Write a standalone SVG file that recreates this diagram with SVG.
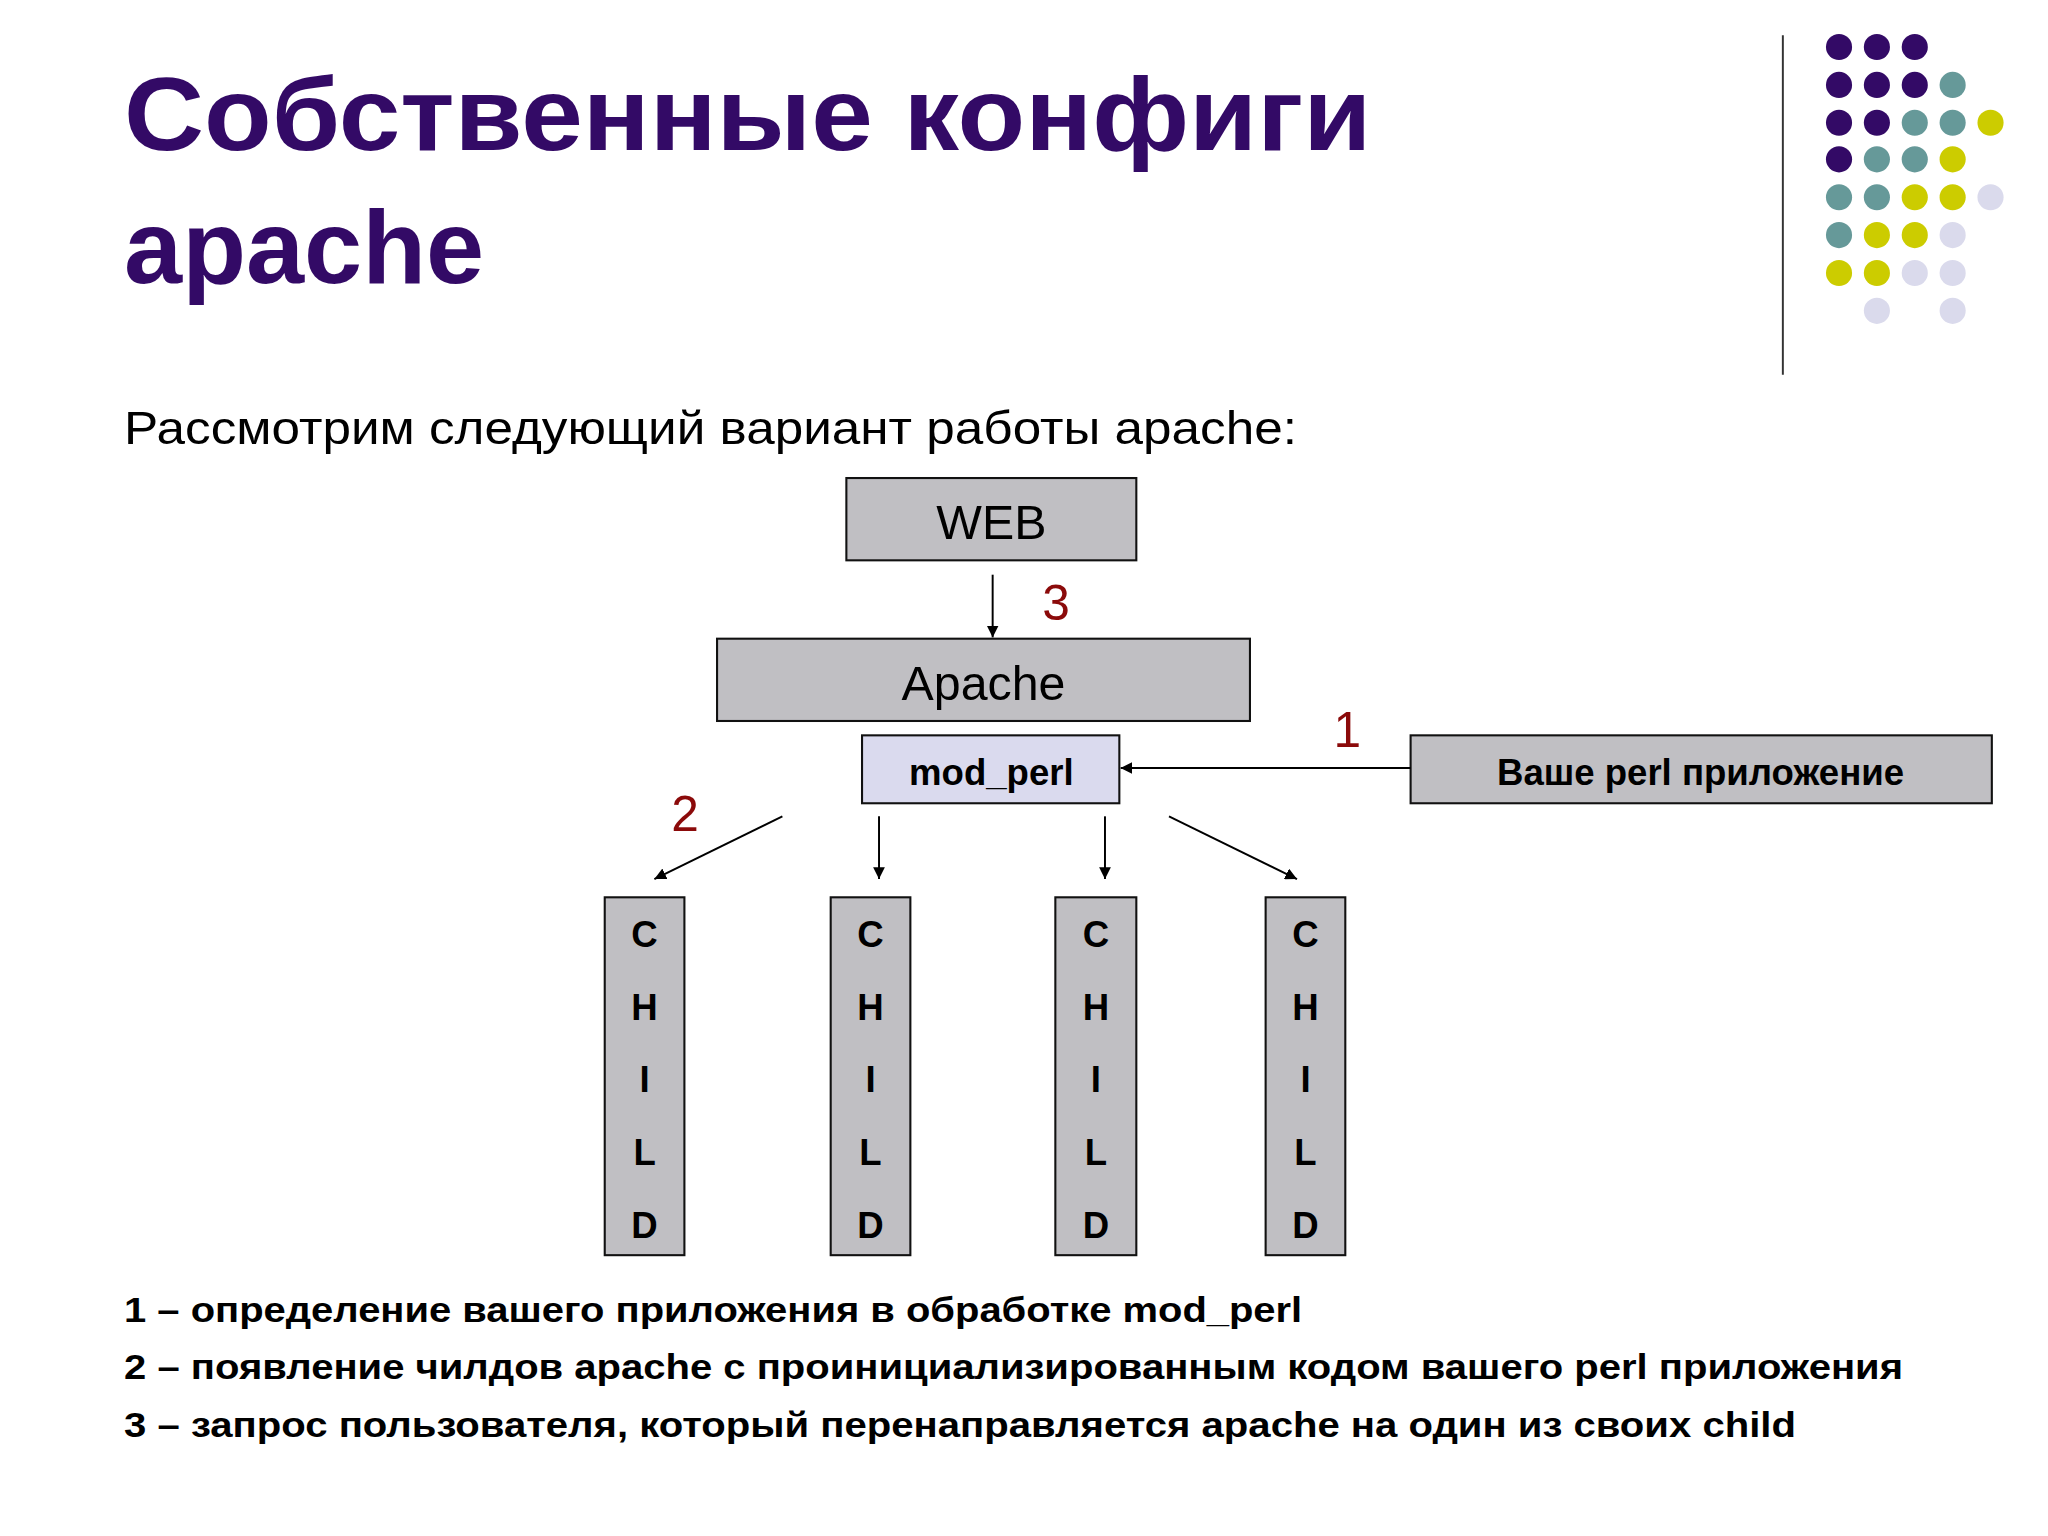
<svg xmlns="http://www.w3.org/2000/svg" width="2048" height="1536" viewBox="0 0 2048 1536">
<defs>
<style>
text{font-family:"Liberation Sans",Arial,sans-serif}
.box{fill:#C0BFC3;stroke:#111;stroke-width:1.6}
.lbl{font-size:37px;fill:#000;text-anchor:middle}
.b{font-weight:bold;font-size:28px;fill:#000;text-anchor:middle}
.num{font-size:38px;fill:#8B0A0A}
.ln{stroke:#000;stroke-width:1.5;fill:none;marker-end:url(#ah)}
.note{font-weight:bold;font-size:27px;fill:#000}
.p{fill:#330A66}.t{fill:#669999}.y{fill:#CCCC00}.l{fill:#DADAEC}
</style>
<marker id="ah" viewBox="0 0 10 10" refX="10" refY="5" markerWidth="9" markerHeight="9" markerUnits="userSpaceOnUse" orient="auto"><path d="M0,0L10,5L0,10z" fill="#000"/></marker>
</defs>
<rect width="2048" height="1536" fill="#fff"/>
<g transform="scale(1.30612)">
<g id="title">
<text x="95" y="115" font-size="80" font-weight="bold" fill="#330A66" textLength="955" lengthAdjust="spacingAndGlyphs">Собственные конфиги</text>
<text x="95" y="217" font-size="80" font-weight="bold" fill="#330A66">apache</text>
</g>
<line x1="1365" y1="27" x2="1365" y2="287" stroke="#333" stroke-width="1.5"/>
<g id="dots">
<circle class="p" cx="1408" cy="36" r="10"/><circle class="p" cx="1437" cy="36" r="10"/><circle class="p" cx="1466" cy="36" r="10"/>
<circle class="p" cx="1408" cy="65" r="10"/><circle class="p" cx="1437" cy="65" r="10"/><circle class="p" cx="1466" cy="65" r="10"/><circle class="t" cx="1495" cy="65" r="10"/>
<circle class="p" cx="1408" cy="94" r="10"/><circle class="p" cx="1437" cy="94" r="10"/><circle class="t" cx="1466" cy="94" r="10"/><circle class="t" cx="1495" cy="94" r="10"/><circle class="y" cx="1524" cy="94" r="10"/>
<circle class="p" cx="1408" cy="122" r="10"/><circle class="t" cx="1437" cy="122" r="10"/><circle class="t" cx="1466" cy="122" r="10"/><circle class="y" cx="1495" cy="122" r="10"/>
<circle class="t" cx="1408" cy="151" r="10"/><circle class="t" cx="1437" cy="151" r="10"/><circle class="y" cx="1466" cy="151" r="10"/><circle class="y" cx="1495" cy="151" r="10"/><circle class="l" cx="1524" cy="151" r="10"/>
<circle class="t" cx="1408" cy="180" r="10"/><circle class="y" cx="1437" cy="180" r="10"/><circle class="y" cx="1466" cy="180" r="10"/><circle class="l" cx="1495" cy="180" r="10"/>
<circle class="y" cx="1408" cy="209" r="10"/><circle class="y" cx="1437" cy="209" r="10"/><circle class="l" cx="1466" cy="209" r="10"/><circle class="l" cx="1495" cy="209" r="10"/>
<circle class="l" cx="1437" cy="238" r="10"/><circle class="l" cx="1495" cy="238" r="10"/>
</g>
<text x="95" y="340" font-size="36" fill="#000" textLength="898" lengthAdjust="spacingAndGlyphs">Рассмотрим следующий вариант работы apache:</text>
<g id="web"><rect class="box" x="648" y="366" width="222" height="63"/><text class="lbl" x="759" y="413">WEB</text></g>
<g id="apache"><rect class="box" x="549" y="489" width="408" height="63"/><text class="lbl" x="753" y="536">Apache</text></g>
<g id="modperl"><rect x="660" y="563" width="197" height="52" fill="#DADAEE" stroke="#111" stroke-width="1.6"/><text class="b" x="759" y="601">mod_perl</text></g>
<g id="app"><rect class="box" x="1080" y="563" width="445" height="52"/><text class="b" x="1302" y="601">Ваше perl приложение</text></g>
<g id="child1"><rect class="box" x="463" y="687" width="61" height="274"/><text class="b" x="493.5"><tspan x="493.5" y="725">C</tspan><tspan x="493.5" y="781">H</tspan><tspan x="493.5" y="836">I</tspan><tspan x="493.5" y="892">L</tspan><tspan x="493.5" y="948">D</tspan></text></g>
<g id="child2"><rect class="box" x="636" y="687" width="61" height="274"/><text class="b" x="666.5"><tspan x="666.5" y="725">C</tspan><tspan x="666.5" y="781">H</tspan><tspan x="666.5" y="836">I</tspan><tspan x="666.5" y="892">L</tspan><tspan x="666.5" y="948">D</tspan></text></g>
<g id="child3"><rect class="box" x="808" y="687" width="62" height="274"/><text class="b" x="839"><tspan x="839" y="725">C</tspan><tspan x="839" y="781">H</tspan><tspan x="839" y="836">I</tspan><tspan x="839" y="892">L</tspan><tspan x="839" y="948">D</tspan></text></g>
<g id="child4"><rect class="box" x="969" y="687" width="61" height="274"/><text class="b" x="999.5"><tspan x="999.5" y="725">C</tspan><tspan x="999.5" y="781">H</tspan><tspan x="999.5" y="836">I</tspan><tspan x="999.5" y="892">L</tspan><tspan x="999.5" y="948">D</tspan></text></g>
<g id="connectors">
<line class="ln" x1="760" y1="440" x2="760" y2="488"/>
<line class="ln" x1="1080" y1="588" x2="858" y2="588"/>
<line class="ln" x1="599" y1="625" x2="501" y2="673"/>
<line class="ln" x1="673" y1="625" x2="673" y2="673"/>
<line class="ln" x1="846" y1="625" x2="846" y2="673"/>
<line class="ln" x1="895" y1="625" x2="993" y2="673"/>
<text class="num" x="798" y="475">3</text>
<text class="num" x="1021" y="572">1</text>
<text class="num" x="514" y="636">2</text>
</g>
<g id="notes">
<text class="note" x="95" y="1012" textLength="902" lengthAdjust="spacingAndGlyphs">1 – определение вашего приложения в обработке mod_perl</text>
<text class="note" x="95" y="1056" textLength="1362" lengthAdjust="spacingAndGlyphs">2 – появление чилдов apache с проинициализированным кодом вашего perl приложения</text>
<text class="note" x="95" y="1100" textLength="1280" lengthAdjust="spacingAndGlyphs">3 – запрос пользователя, который перенаправляется apache на один из своих child</text>
</g>
</g>
</svg>
